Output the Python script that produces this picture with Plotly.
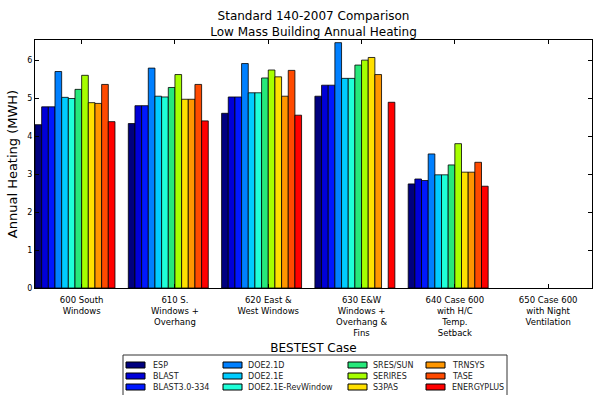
import plotly.graph_objects as go

cases = ["600 South<br>Windows",
         "610 S.<br>Windows +<br>Overhang",
         "620 East &<br>West Windows",
         "630 E&W<br>Windows +<br>Overhang &<br>Fins",
         "640 Case 600<br>with H/C<br>Temp.<br>Setback",
         "650 Case 600<br>with Night<br>Ventilation"]

programs = ["ESP", "BLAST", "BLAST3.0-334", "DOE2.1D", "DOE2.1E",
            "DOE2.1E-RevWindow", "SRES/SUN", "SERIRES", "S3PAS",
            "TRNSYS", "TASE", "ENERGYPLUS"]

esp        = [4.30, 4.33, 4.60, 5.05, 2.74, None]
blast      = [4.77, 4.80, 5.03, 5.34, 2.87, None]
blast3     = [4.77, 4.80, 5.03, 5.34, 2.83, None]
doe21d     = [5.70, 5.79, 5.91, 6.46, 3.53, None]
doe21e     = [5.02, 5.05, 5.14, 5.52, 2.98, None]
doe21e_rw  = [4.99, 5.03, 5.14, 5.52, 2.98, None]
sres_sun   = [5.23, 5.28, 5.53, 5.87, 3.24, None]
serires    = [5.60, 5.62, 5.74, 6.00, 3.80, None]
s3pas      = [4.88, 4.97, 5.56, 6.07, 3.05, None]
trnsys     = [4.86, 4.97, 5.05, 5.62, 3.05, None]
tase       = [5.36, 5.36, 5.73, None, 3.31, None]
energyplus = [4.38, 4.40, 4.55, 4.89, 2.68, None]

series = [esp, blast, blast3, doe21d, doe21e, doe21e_rw, sres_sun,
          serires, s3pas, trnsys, tase, energyplus]

colors = ["#00007f", "#0000d8", "#0018ff", "#0080ff", "#00ccff",
          "#1effd8", "#26e87a", "#a6ff00", "#ffe000", "#ff9600",
          "#ff4a00", "#ff0000"]

W, H = 593, 395
L, R, T, B = 35, 1, 40, 107
pw, ph = W - L - R, H - T - B

def px_x(px):
    return (px - L) / pw

def px_y(py):
    return (H - B - py) / ph

bw = 1 / 14
xpos = list(range(len(cases)))

fig = go.Figure()
for i, (name, vals, col) in enumerate(zip(programs, series, colors)):
    fig.add_trace(go.Bar(
        x=xpos, y=vals, name=name, width=bw, offset=-0.5 + i * bw,
        marker=dict(color=col, line=dict(color="black", width=0.8)),
        showlegend=False))

# legend drawn as a box of swatches and labels
shapes = [dict(type="rect", xref="paper", yref="paper",
               x0=px_x(123), x1=px_x(507), y0=px_y(399), y1=px_y(355),
               line=dict(color="#333333", width=1), fillcolor="white", layer="above")]
annotations = []
col_sw = [126, 223, 348, 426]
col_tx = [151, 246, 371, 450]
rows = [365, 376, 387]
for i, (name, col) in enumerate(zip(programs, colors)):
    c, r = i // 3, i % 3
    shapes.append(dict(type="rect", xref="paper", yref="paper",
                       x0=px_x(col_sw[c]), x1=px_x(col_sw[c] + 19),
                       y0=px_y(rows[r] + 3), y1=px_y(rows[r] - 3),
                       fillcolor=col, line=dict(color="black", width=1), layer="above"))
    annotations.append(dict(text=name, xref="paper", yref="paper",
                            x=px_x(col_tx[c]), y=px_y(rows[r]),
                            xanchor="left", yanchor="middle", showarrow=False,
                            font=dict(size=8, color="#222222")))

fig.update_layout(
    width=W, height=H,
    margin=dict(l=L, r=R, t=T, b=B),
    paper_bgcolor="white", plot_bgcolor="white",
    font=dict(family="DejaVu Sans", color="black"),
    title=dict(text="Standard 140-2007 Comparison<br>Low Mass Building Annual Heating",
               x=0.5, xref="paper", xanchor="center",
               y=1 - 20 / H, yref="container", yanchor="top",
               font=dict(size=12, color="black")),
    barmode="overlay",
    shapes=shapes, annotations=annotations,
)
fig.update_xaxes(range=[-0.5, 5.47], tickvals=xpos, ticktext=cases,
                 ticks="inside", ticklen=4, tickcolor="black",
                 showline=True, linecolor="black", linewidth=1, mirror="ticks",
                 showgrid=False, zeroline=False, tickfont=dict(size=8.5),
                 ticklabelstandoff=4,
                 title=dict(text="BESTEST Case", font=dict(size=12), standoff=6))
fig.update_yaxes(range=[0, 6.53], tickvals=[0, 1, 2, 3, 4, 5, 6],
                 ticks="inside", ticklen=4, tickcolor="black",
                 showline=True, linecolor="black", linewidth=1, mirror="ticks",
                 showgrid=False, zeroline=False, tickfont=dict(size=8),
                 title=dict(text="Annual Heating (MWH)", font=dict(size=13), standoff=6))

fig.write_html("out.html", config={"displayModeBar": False},
               post_script="document.body.style.margin='0';document.body.style.overflow='hidden';")
